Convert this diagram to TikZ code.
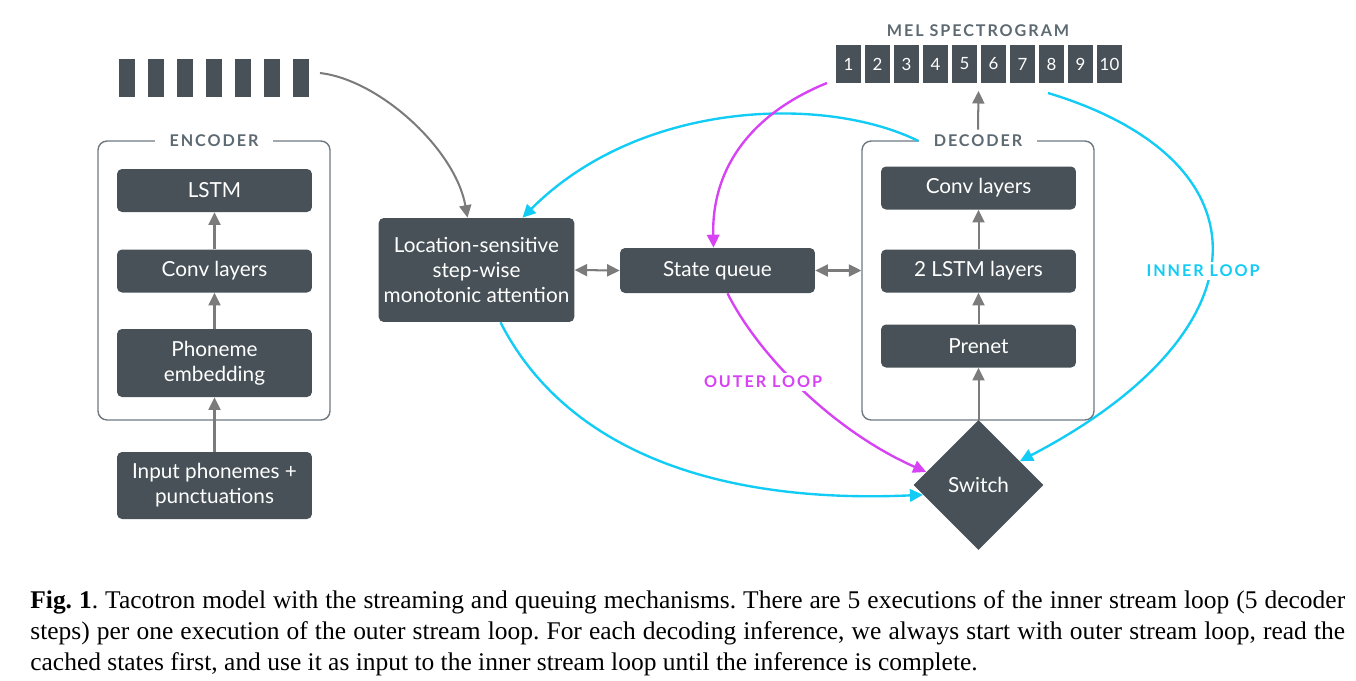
\documentclass[tikz,border=0pt]{standalone}
\usepackage{fontspec}
\setmainfont{Liberation Serif}
\newfontfamily\diafont{Lato}
\newfontfamily\spacedfont[LetterSpace=12]{Lato}
\usetikzlibrary{arrows.meta,shapes.geometric}

\definecolor{blockgray}{HTML}{475157}
\definecolor{arrowgray}{HTML}{7B7B7B}
\definecolor{framegray}{HTML}{6F7981}
\definecolor{titlegray}{HTML}{5E6A72}
\definecolor{loopcyan}{HTML}{12CCF5}
\definecolor{loopmagenta}{HTML}{D642F4}

\tikzset{
	block/.style={fill=blockgray, rounded corners=0.1cm, minimum width=3.9cm, minimum height=0.86cm, inner sep=0.1cm, text=white, align=center, font=\diafont\fontsize{11.8}{14.2}\selectfont},
	container/.style={draw=framegray, line width=0.8pt, rounded corners=0.18cm, minimum width=4.64cm, minimum height=5.58cm},
	frametitle/.style={fill=white, text=titlegray, inner xsep=0.3cm, inner ysep=0.1cm, font=\spacedfont\bfseries\fontsize{9.2}{11}\selectfont},
	melbox/.style={fill=blockgray, minimum width=0.5cm, minimum height=0.76cm, inner sep=0, text=white, font=\diafont\fontsize{9.6}{11}\selectfont},
	looplabel/.style={fill=white, inner sep=0.06cm, font=\spacedfont\bfseries\fontsize{9.2}{11}\selectfont},
	flow/.style={draw=arrowgray, line width=1.15pt, -{Triangle[length=0.25cm,width=0.24cm]}},
	twoway/.style={flow, {Triangle[length=0.25cm,width=0.24cm]}-{Triangle[length=0.25cm,width=0.24cm]}},
	innerloop/.style={draw=loopcyan, line width=1.35pt, -{Triangle[length=0.26cm,width=0.25cm]}},
	outerloop/.style={draw=loopmagenta, line width=1.35pt, -{Triangle[length=0.26cm,width=0.25cm]}},
}

\begin{document}
\begin{tikzpicture}[x=0.02cm, y=-0.02cm]
			%%%%% START %%%%%
			
			\useasboundingbox (0, 0) rectangle (1356, 680);
			
			% input tokens
			\foreach \k in {0,...,6}
				\fill[blockgray] ({119+29*\k}, 59) rectangle ({135+29*\k}, 97);
			\coordinate (tok) at (320, 73);
			
			% encoder
			\node[container] (encframe) at (214, 280.5) {};
			\node[frametitle] (enctitle) at (214, 141) {ENCODER};
			\node[block] (lstm) at (214.5, 190.5) {LSTM};
			\node[block] (econv) at (214.5, 271) {Conv layers};
			\node[block, minimum height=1.36cm] (embed) at (214.5, 363) {Phoneme\\embedding};
			\node[block, minimum height=1.34cm] (input) at (214.5, 485.5) {Input phonemes +\\punctuations};
			
			\draw[flow] (input) -- (embed);
			\draw[flow] (embed) -- (econv);
			\draw[flow] (econv) -- (lstm);
			
			% attention and queue
			\node[block, minimum height=2.08cm] (attn) at (476.5, 270) {Location-sensitive\\step-wise\\monotonic attention};
			\node[block, minimum height=0.9cm] (queue) at (717.5, 270.5) {State queue};
			
			% decoder
			\node[container] (decframe) at (978, 280.5) {};
			\node[frametitle] (dectitle) at (978, 141) {DECODER};
			\node[block] (dconv) at (978.5, 188) {Conv layers};
			\node[block] (dlstm) at (978.5, 271) {2 LSTM layers};
			\node[block] (prenet) at (978.5, 346) {Prenet};
			\node[diamond, fill=blockgray, minimum width=2.6cm, minimum height=2.6cm, inner sep=0, text=white, font=\diafont\fontsize{11.8}{14.2}\selectfont] (switch) at (978.5, 485) {Switch};
			
			% mel spectrogram
			\node[text=titlegray, font=\spacedfont\bfseries\fontsize{9.2}{11}\selectfont] (meltitle) at (978, 31) {MEL SPECTROGRAM};
			\foreach \k in {1,...,10}
				\node[melbox] (m\k) at ({848.5+29*(\k-1)}, 64) {\k};
			\coordinate (melout) at (978.5, 91);
			\coordinate (melin) at (827, 83);
			\coordinate (melrun) at (1048, 93);
			
			\draw[flow] (switch.north) -- (prenet.south);
			\draw[flow] (prenet) -- (dlstm);
			\draw[flow] (dlstm) -- (dconv);
			\draw[flow] (dectitle.north) -- (melout);
			\draw[twoway] (attn.east) -- (queue.west);
			\draw[twoway] (queue.east) -- (queue.east -| decframe.west);
			\draw[flow] (tok) .. controls +(60, 7) and +(-12, -68) .. ([xshift=-0.18cm]attn.north);
			
			% loops
			\draw[innerloop] (dectitle.west) .. controls +(-93, -46) and +(118, -118) .. ([xshift=0.92cm]attn.north);
			\draw[innerloop] (melrun) .. controls +(222, 67) and +(251, -131) .. (switch.30);
			\draw[innerloop] ([xshift=0.48cm]attn.south) .. controls +(60, 118) and +(-223, 10) .. (switch.190);
			\draw[outerloop] (melin) .. controls +(-67, 27) and +(-2, -87) .. ([xshift=-0.08cm]queue.north);
			\draw[outerloop] ([xshift=0.2cm]queue.south) .. controls +(30, 60) and +(-95, -42) .. (switch.166);
			
			\node[looplabel, text=loopcyan] (innerlbl) at (1203, 271) {INNER LOOP};
			\node[looplabel, text=loopmagenta] (outerlbl) at (763, 382) {OUTER LOOP};
			
			% caption
			\node[anchor=north west, inner sep=0, text width=26.3cm, align=justify, font=\fontsize{14.5}{17.6}\selectfont] (caption) at (30, 590) {\frenchspacing\textbf{Fig. 1}. Tacotron model with the streaming and queuing mechanisms. There are 5 executions of the inner stream loop (5 decoder\linebreak steps) per one execution of the outer stream loop. For each decoding inference, we always start with outer stream loop, read the\linebreak cached states first, and use it as input to the inner stream loop until the inference is complete.};
			
			%%%%% END %%%%%
\end{tikzpicture}
\end{document}
